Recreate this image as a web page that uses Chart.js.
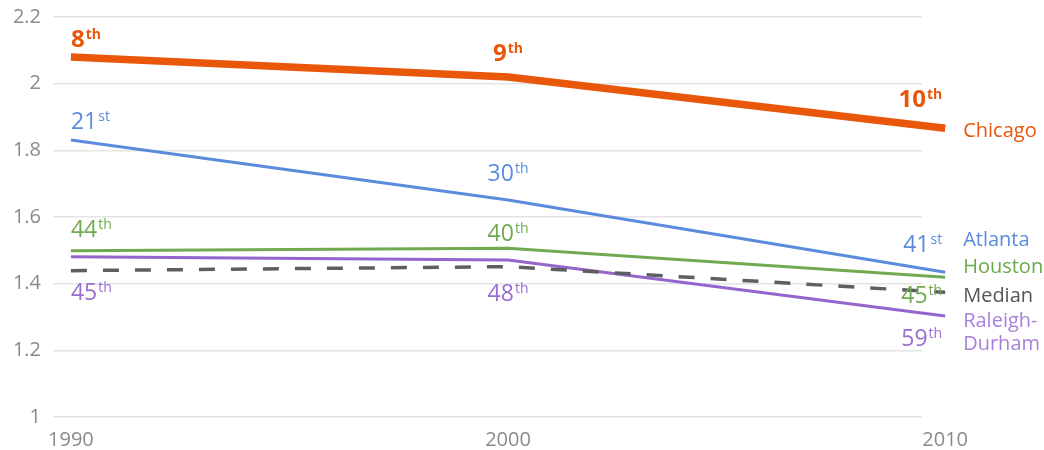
<!DOCTYPE html>
<html>
<head>
<meta charset="utf-8">
<script src="https://cdn.jsdelivr.net/npm/chart.js@4/dist/chart.umd.min.js"></script>
<style>
  html, body { margin: 0; padding: 0; background: #fff; }
  #wrap { width: 1044px; height: 450px; }
</style>
</head>
<body>
<div id="wrap"><canvas id="c" width="1044" height="450"></canvas></div>
<script>
// Years on the x axis
const years = [1990, 2000, 2010];

// Series values
const chicago = [2.08, 2.02, 1.866];
const atlanta = [1.831, 1.651, 1.434];
const houston = [1.499, 1.506, 1.419];
const median  = [1.439, 1.451, 1.374];
const raleigh = [1.481, 1.471, 1.303];

// Rank shown next to each point
const chicagoRank = [8, 9, 10];
const atlantaRank = [21, 30, 41];
const houstonRank = [44, 40, 45];
const raleighRank = [45, 48, 59];

// Series names at the right end
const seriesNames = ['Chicago', 'Atlanta', 'Houston', 'Median', ['Raleigh-', 'Durham']];

// Y axis tick values
const yTicks = [1, 1.2, 1.4, 1.6, 1.8, 2, 2.2];

const FONT = "'Open Sans', 'DejaVu Sans', sans-serif";

function ordinal(n) {
  const t = n % 100;
  if (t >= 11 && t <= 13) return 'th';
  switch (n % 10) {
    case 1: return 'st';
    case 2: return 'nd';
    case 3: return 'rd';
    default: return 'th';
  }
}

function pts(vals) {
  return years.map((x, i) => ({ x: x, y: vals[i] }));
}

// Label styling per series: colour, weight and vertical offsets (px) for each point
const rankStyle = {
  Chicago: { color: '#e8570a', bold: true,  dy: [-10, -16, -21] },
  Atlanta: { color: '#5b8bdc', bold: false, dy: [-11, -19, -20] },
  Houston: { color: '#70aa50', bold: false, dy: [-14, -7, 26] },
  Raleigh: { color: '#9a6dd0', bold: false, dy: [43, 41, 30] }
};
const rankAlign = ['left', 'center', 'right'];
const nameStyle = [
  { color: '#e8570a', dy: 9 },
  { color: '#5b8bdc', dy: -26 },
  { color: '#6aaa4a', dy: -4 },
  { color: '#555555', dy: 10 },
  { color: '#a880dc', dy: 11 }
];

const datasets = [
  { label: 'Median', data: pts(median), borderColor: '#5f5f63', borderWidth: 3.5, borderDash: [16, 16], ranks: null },
  { label: 'Raleigh', data: pts(raleigh), borderColor: '#9664cd', borderWidth: 3, ranks: raleighRank },
  { label: 'Houston', data: pts(houston), borderColor: '#70aa50', borderWidth: 3, ranks: houstonRank },
  { label: 'Atlanta', data: pts(atlanta), borderColor: '#5b8bdc', borderWidth: 3, ranks: atlantaRank },
  { label: 'Chicago', data: pts(chicago), borderColor: '#e8570a', borderWidth: 7.5, ranks: chicagoRank }
].map(d => Object.assign({
  pointRadius: 0, pointHoverRadius: 0, tension: 0, fill: false,
  clip: false, borderJoinStyle: 'round', borderCapStyle: 'butt'
}, d));

const nameOrder = ['Chicago', 'Atlanta', 'Houston', 'Median', 'Raleigh'];

const annotate = {
  id: 'annotate',
  afterDatasetsDraw(chart) {
    const ctx = chart.ctx;
    ctx.save();
    chart.data.datasets.forEach((ds, di) => {
      if (!ds.ranks) return;
      const st = rankStyle[ds.label];
      const meta = chart.getDatasetMeta(di);
      ds.ranks.forEach((r, i) => {
        const p = meta.data[i];
        const mainFont = st.bold ? 'bold 24px ' + FONT : '23px ' + FONT;
        const supFont = st.bold ? 'bold 14px ' + FONT : '14px ' + FONT;
        const main = String(r);
        const sup = ordinal(r);
        ctx.font = mainFont;
        const w1 = ctx.measureText(main).width;
        ctx.font = supFont;
        const w2 = ctx.measureText(sup).width;
        const total = w1 + 1 + w2;
        let x0;
        if (rankAlign[i] === 'left') x0 = p.x;
        else if (rankAlign[i] === 'center') x0 = p.x - total / 2;
        else x0 = p.x - 3 - total;
        const by = p.y + st.dy[i];
        ctx.fillStyle = st.color;
        ctx.textAlign = 'left';
        ctx.textBaseline = 'alphabetic';
        ctx.font = mainFont;
        ctx.fillText(main, x0, by);
        ctx.font = supFont;
        ctx.fillText(sup, x0 + w1 + 1, by - 8);
      });
    });
    // series names at the right end
    nameOrder.forEach((lbl, k) => {
      const di = chart.data.datasets.findIndex(d => d.label === lbl);
      const p = chart.getDatasetMeta(di).data[years.length - 1];
      const st = nameStyle[k];
      const lines = [].concat(seriesNames[k]);
      ctx.font = '20px ' + FONT;
      ctx.fillStyle = st.color;
      ctx.textAlign = 'left';
      ctx.textBaseline = 'alphabetic';
      lines.forEach((t, j) => ctx.fillText(t, p.x + 18, p.y + st.dy + j * 22.5));
    });
    ctx.restore();
  }
};

new Chart(document.getElementById('c'), {
  type: 'line',
  data: { datasets: datasets },
  options: {
    responsive: false,
    animation: false,
    events: [],
    layout: { padding: { top: 17, right: 122, bottom: 0, left: 0 } },
    plugins: { legend: { display: false }, tooltip: { enabled: false } },
    scales: {
      x: {
        type: 'linear',
        min: 1989.59,
        max: 2009.47,
        afterBuildTicks(scale) { scale.ticks = years.map(v => ({ value: v })); },
        afterFit(scale) { scale.height = 33; scale.paddingLeft = 0; scale.paddingRight = 0; },
        grid: { display: false, drawTicks: false },
        border: { display: false },
        ticks: {
          autoSkip: false, maxRotation: 0, padding: 11,
          color: '#8a8a8a', font: { family: FONT, size: 20 },
          callback: v => String(v)
        }
      },
      y: {
        min: 1,
        max: 2.2,
        afterBuildTicks(scale) { scale.ticks = yTicks.map(v => ({ value: v })); },
        afterFit(scale) { scale.width = 53; scale.paddingTop = 0; scale.paddingBottom = 0; },
        grid: { color: '#e4e4e4', lineWidth: 1.5, drawTicks: false },
        border: { display: false },
        ticks: {
          padding: 12,
          color: '#8a8a8a', font: { family: FONT, size: 20 },
          callback: v => String(Number(v.toFixed(1)))
        }
      }
    }
  },
  plugins: [annotate]
});
</script>
</body>
</html>
